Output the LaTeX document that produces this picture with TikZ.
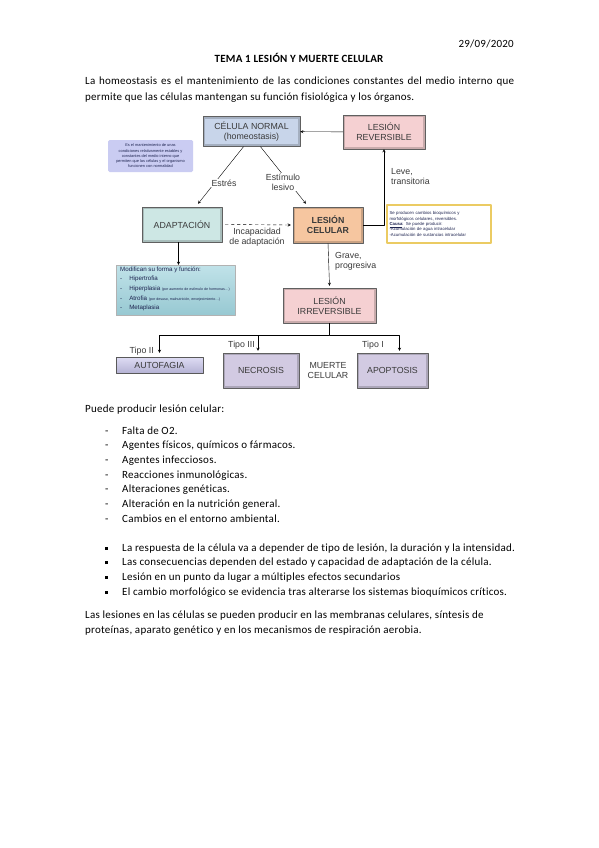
\documentclass[tikz,border=0pt]{standalone}
\usepackage{fontspec}
\setmainfont{Carlito}[LetterSpace=2.2, Ligatures=NoCommon]
\newfontfamily\helv{Liberation Sans}
\usetikzlibrary{calc}

\definecolor{azulc}{HTML}{C8D5EA}
\definecolor{rosac}{HTML}{F5D0D2}
\definecolor{verdec}{HTML}{CDE7E4}
\definecolor{naranjac}{HTML}{F6C6A0}
\definecolor{lilac}{HTML}{D2CAE2}
\definecolor{lilaauto}{HTML}{C9C6EC}
\definecolor{azulnota}{HTML}{CACCF2}
\definecolor{turquesa}{HTML}{9FD3DD}
\definecolor{amarillo}{HTML}{EBCB63}
\definecolor{gristexto}{HTML}{3A3A3A}
\definecolor{azultexto}{HTML}{1E2450}

\tikzset{
	caja/.style={rectangle, draw=gray!75!black, line width=0.4pt, fill=#1!82!black,
		inner sep=0pt, align=center, text=gristexto, font=\helv\fontsize{8.8}{10}\selectfont,
		path picture={\fill[#1] ([shift={(2.4pt,-2.4pt)}]path picture bounding box.north west)
			rectangle ([shift={(-2.4pt,2.4pt)}]path picture bounding box.south east);}},
	etiq/.style={align=left, text=gristexto, inner sep=1pt, fill=white, font=\helv\fontsize{8.8}{10}\selectfont},
	nota/.style={inner sep=0pt, text=azultexto, font=\helv\fontsize{4.3}{5.4}\selectfont},
	linea/.style={anchor=base west, inner sep=0pt},
}

\begin{document}
\begin{tikzpicture}[x=1pt, y=-1pt, >=stealth, font=\fontsize{11}{14}\selectfont, line join=round, line cap=round]
			\useasboundingbox[fill=white] (0,0) rectangle (599,848);
			% cabecera
			\node[anchor=base east, inner sep=0pt] (fecha) at (514,48) {29/09/2020};
			\node[anchor=base, inner sep=0pt, font=\bfseries\fontsize{11}{14}\selectfont] (titulo) at (299,63) {TEMA 1 LESIÓN Y MUERTE CELULAR};
			\node[anchor=north west, inner sep=0pt, text width=429pt, align=justify,
				font=\fontsize{11}{16}\selectfont] (intro) at (85,77)
				{La homeostasis es el mantenimiento de las condiciones constantes del medio interno que\linebreak permite que las células mantengan su función fisiológica y los órganos.};
			% esquema
			\node[caja=azulc, minimum width=97pt, minimum height=30pt] (normal) at (251.5,131.5) {CÉLULA NORMAL\\(homeostasis)};
			\node[caja=rosac, minimum width=82pt, minimum height=34pt] (reversible) at (384,132) {LESIÓN\\REVERSIBLE};
			\node[caja=verdec, minimum width=80pt, minimum height=35pt] (adaptacion) at (182,224.5) {ADAPTACIÓN};
			\node[caja=naranjac, minimum width=70pt, minimum height=36pt, font=\helv\bfseries\fontsize{8.8}{10}\selectfont] (celular) at (328,225) {LESIÓN\\CELULAR};
			\node[caja=rosac, minimum width=93pt, minimum height=35pt] (irreversible) at (329.5,305.5) {LESIÓN\\IRREVERSIBLE};
			\node[caja=lilac, minimum width=76pt, minimum height=35pt] (necrosis) at (261,370.5) {NECROSIS};
			\node[caja=lilac, minimum width=71pt, minimum height=35pt] (apoptosis) at (392.5,370.5) {APOPTOSIS};
			\node[rectangle, draw=gray!70!black, line width=0.4pt, top color=lilaauto!60, bottom color=lilaauto!90!black,
				minimum width=87pt, minimum height=16pt, inner sep=0pt, text=gristexto,
				font=\helv\fontsize{8.8}{10}\selectfont] (autofagia) at (159.5,365) {AUTOFAGIA};
			\node[etiq, align=center] (muerte) at (328,371) {MUERTE\\CELULAR};
			% notas
			\node[rounded corners=1.5pt, fill=azulnota, minimum width=85pt, minimum height=32pt, align=center, nota,
				font=\helv\fontsize{3.9}{5.2}\selectfont] (homeo) at (150.5,156)
				{Es el mantenimiento de unas\\condiciones relativamente estables y\\constantes del medio interno que\\permiten que las células y el organismo\\funcionen con normalidad};
			\node[draw=amarillo, line width=1.1pt, fill=white, minimum width=104pt, minimum height=38pt, align=left, nota,
				text width=99pt] (cambios) at (439,224)
				{Se producen cambios bioquímicos y\\morfológicos celulares, reversibles.\\\underline{\textbf{Causa}}: Se puede producir:\\-Acumulación de agua intracelular\\-Acumulación de sustancias intracelular};
			\node[draw=gray!60, line width=0.4pt, top color=turquesa!65, bottom color=turquesa!95!black,
				minimum width=119pt, minimum height=50pt] (modif) at (175.5,290) {};
			\node[anchor=north west, inner sep=0pt, align=left, text=azultexto, font=\helv\fontsize{6.2}{9.6}\selectfont] (modiftxt) at (120,266.5)
				{Modifican su forma y función:\\
				-\hspace{7pt}Hipertrofia\\
				-\hspace{7pt}Hiperplasia {\fontsize{3.6}{4}\selectfont(por aumento de estímulo de hormonas\dots)}\\
				-\hspace{7pt}Atrofia {\fontsize{3.6}{4}\selectfont(por desuso, malnutrición, envejecimiento\dots)}\\
				-\hspace{7pt}Metaplasia};
			% conectores
			\draw[->] (reversible) -- (normal);
			\draw[->] ($(normal.south)+(-8,0)$) -- ($(adaptacion.north)+(16,-3)$);
			\draw[->] ($(normal.south)+(9,0)$) -- ($(celular.north)+(-22,-3)$);
			\draw[->] (celular.east) -| (reversible.south);
			\draw[->, dashed] ($(adaptacion.east)+(3,0)$) -- ($(celular.west)+(-2,0)$);
			\draw[->] (adaptacion.south -| modif.north) ++(3,0) coordinate (bajada) -- (bajada |- modif.north);
			\draw[->] (celular.south) -- ($(irreversible.north)+(0,-2)$);
			\coordinate (rama) at ($(irreversible.south)+(0,12)$);
			\coordinate (t2) at ($(autofagia.north)+(0,-4)$);
			\coordinate (t3) at ($(necrosis.north)+(-3,-2)$);
			\coordinate (t1) at ($(apoptosis.north)+(7,-2)$);
			\draw (irreversible.south) -- (rama);
			\draw[->] (rama) -| (t2);
			\draw[->] (rama) -| (t1);
			\draw[->] (t3 |- rama) -- (t3);
			% etiquetas
			\node[etiq] (estres) at (224,183) {Estrés};
			\node[etiq, align=center] (estimulo) at (283,182) {Estímulo\\lesivo};
			\node[etiq, anchor=west] (leve) at (390,177) {Leve,\\transitoria};
			\node[etiq, align=center] (incap) at (257,237) {Incapacidad\\de adaptación};
			\node[etiq, anchor=west] (grave) at (334,261) {Grave,\\progresiva};
			\node[etiq, anchor=east] (tipo2) at (155,351) {Tipo II};
			\node[etiq, anchor=east] (tipo3) at (256,345) {Tipo III};
			\node[etiq, anchor=east] (tipo1) at (385,345) {Tipo I};
			% texto
			\node[linea] (puede) at (85,412) {Puede producir lesión celular:};
			\node[linea] (g1) at (105,434) {-};
			\node[linea] (l1) at (122,434) {Falta de O2.};
			\node[linea] (g2) at (105,448.7) {-};
			\node[linea] (l2) at (122,448.7) {Agentes físicos, químicos o fármacos.};
			\node[linea] (g3) at (105,463.4) {-};
			\node[linea] (l3) at (122,463.4) {Agentes infecciosos.};
			\node[linea] (g4) at (105,478.1) {-};
			\node[linea] (l4) at (122,478.1) {Reacciones inmunológicas.};
			\node[linea] (g5) at (105,492.8) {-};
			\node[linea] (l5) at (122,492.8) {Alteraciones genéticas.};
			\node[linea] (g6) at (105,507.5) {-};
			\node[linea] (l6) at (122,507.5) {Alteración en la nutrición general.};
			\node[linea] (g7) at (105,522.2) {-};
			\node[linea] (l7) at (122,522.2) {Cambios en el entorno ambiental.};
			\node[linea] (c1) at (105,551) {\rule[1.5pt]{3pt}{3pt}};
			\node[linea] (m1) at (122,551) {La respuesta de la célula va a depender de tipo de lesión, la duración y la intensidad.};
			\node[linea] (c2) at (105,565.7) {\rule[1.5pt]{3pt}{3pt}};
			\node[linea] (m2) at (122,565.7) {Las consecuencias dependen del estado y capacidad de adaptación de la célula.};
			\node[linea] (c3) at (105,580.4) {\rule[1.5pt]{3pt}{3pt}};
			\node[linea] (m3) at (122,580.4) {Lesión en un punto da lugar a múltiples efectos secundarios};
			\node[linea] (c4) at (105,595.1) {\rule[1.5pt]{3pt}{3pt}};
			\node[linea] (m4) at (122,595.1) {El cambio morfológico se evidencia tras alterarse los sistemas bioquímicos críticos.};
			\node[linea] (fin1) at (85,618) {Las lesiones en las células se pueden producir en las membranas celulares, síntesis de};
			\node[linea] (fin2) at (85,633) {proteínas, aparato genético y en los mecanismos de respiración aerobia.};
		\end{tikzpicture}
\end{document}
